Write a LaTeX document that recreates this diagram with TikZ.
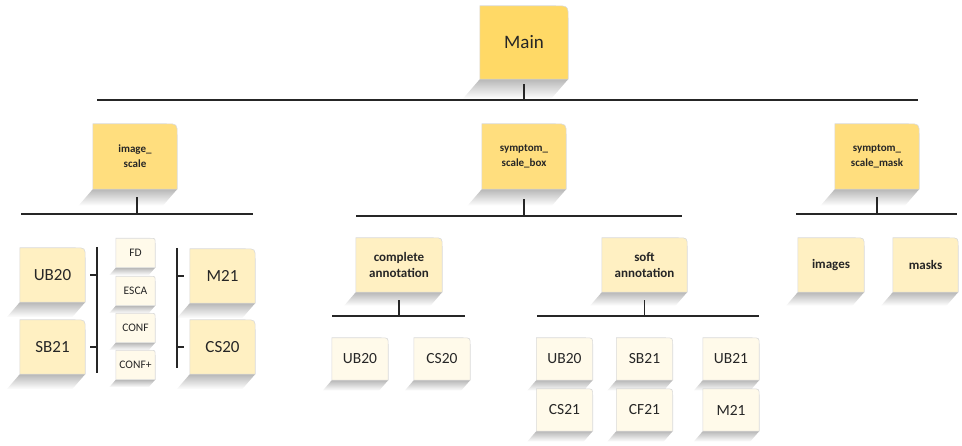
\documentclass[tikz,border=0pt]{standalone}
\usepackage{fontspec}
\setmainfont{Carlito}
\usetikzlibrary{calc}
\pgfdeclarelayer{bg}
\pgfsetlayers{bg,main}
\definecolor{goldA}{HTML}{FFD966}
\definecolor{goldB}{HTML}{FFDE7E}
\definecolor{goldC}{HTML}{FFF0C2}
\definecolor{goldD}{HTML}{FFFAEA}
\definecolor{tileline}{HTML}{D9D9D9}
\definecolor{ink}{HTML}{262626}

\begin{document}
\begin{tikzpicture}[x=1pt, y=-1pt,
    tile/.style={inner sep=0pt, align=center, text=ink},
    rootbox/.style={tile, minimum width=88pt, minimum height=73pt, font=\fontsize{19}{22}\selectfont},
    groupbox/.style={tile, minimum width=84pt, minimum height=65pt, font=\fontsize{11}{15}\selectfont\bfseries},
    setbox/.style={tile, minimum width=65pt, minimum height=54pt, font=\fontsize{17}{20}\selectfont},
    subbox/.style={tile, minimum height=54pt, font=\fontsize{13}{16}\selectfont\bfseries},
    metricbox/.style={tile, minimum width=39pt, minimum height=29pt, font=\fontsize{11.5}{13}\selectfont},
    leafbox/.style={tile, minimum width=56pt, minimum height=42pt, font=\fontsize{15.5}{18}\selectfont},
    bus/.style={draw=ink, line width=1.4pt}]
  \useasboundingbox (0,0) rectangle (962,446);

  \node (main) [rootbox] at (524,42.5) {Main};

  \node (imgsc) [groupbox] at (135,156.5) {image\_\\scale};
  \node (symbox) [groupbox] at (524,156.5) {symptom\_\\scale\_box};
  \node (symmask) [groupbox] at (877,156.5) {symptom\_\\scale\_mask};

  \node (ub) [setbox] at (52.5,275) {UB20};
  \node (sb) [setbox] at (52.5,347) {SB21};
  \node (m) [setbox] at (222.5,276) {M21};
  \node (cs) [setbox] at (222.5,347) {CS20};
  \node (fd) [metricbox] at (135.5,253) {FD};
  \node (esca) [metricbox] at (135.5,291) {ESCA};
  \node (conf) [metricbox] at (135.5,328) {CONF};
  \node (confp) [metricbox] at (135.5,365) {CONF+};

  \node (compl) [subbox, minimum width=86pt] at (399,265) {complete\\annotation};
  \node (soft) [subbox, minimum width=85pt] at (644.5,265) {soft\\annotation};
  \node (img) [subbox, minimum width=66pt] at (831,265) {images};
  \node (msk) [subbox, minimum width=65pt] at (925.5,265) {masks};

  \node (cub) [leafbox] at (360,359) {UB20};
  \node (ccs) [leafbox] at (442,359) {CS20};
  \node (sub) [leafbox] at (564.5,359) {UB20};
  \node (ssb) [leafbox] at (644.5,359) {SB21};
  \node (sub2) [leafbox] at (731,359) {UB21};
  \node (scs) [leafbox] at (564.5,410) {CS21};
  \node (scf) [leafbox] at (644.5,410) {CF21};
  \node (sm) [leafbox] at (731,410) {M21};

  \begin{pgfonlayer}{bg}
    \foreach \n/\c/\r in {main/goldA/13, imgsc/goldB/11, symbox/goldB/11, symmask/goldB/11,
        ub/goldC/10, sb/goldC/10, m/goldC/10, cs/goldC/10,
        compl/goldC/9, soft/goldC/9, img/goldC/9, msk/goldC/9,
        fd/goldD/5, esca/goldD/5, conf/goldD/5, confp/goldD/5,
        cub/goldD/7, ccs/goldD/7, sub/goldD/7, ssb/goldD/7, sub2/goldD/7,
        scs/goldD/7, scf/goldD/7, sm/goldD/7}{
      \shade[top color=black!28, bottom color=white] (\n.south west) -- (\n.south east)
        -- ($(\n.south east)+(-1.3*\r,1.5*\r)$) -- ($(\n.south west)+(-1.3*\r,1.5*\r)$) -- cycle;
      \filldraw[fill=\c, draw=tileline, line width=0.6pt] (\n.south west) -- (\n.south east)
        -- ($(\n.north east)+(0,\r)$) .. controls (\n.north east) .. ($(\n.north east)+(-\r,0)$)
        -- (\n.north west) -- cycle;
    }
  \end{pgfonlayer}

  \coordinate (rootL) at (97,100);
  \coordinate (rootR) at (918,100);
  \draw [bus] (rootL) -- (rootR);
  \draw [bus] ([yshift=-5pt]main.south) -- (main.south |- rootL);

  \coordinate (imgL) at (21,214);
  \coordinate (imgR) at (253,214);
  \draw [bus] (imgL) -- (imgR);
  \draw [bus] ([shift={(2pt,-8pt)}]imgsc.south) -- ([xshift=2pt]imgsc.south |- imgL);

  \coordinate (boxL) at (356,216);
  \coordinate (boxR) at (682,216);
  \draw [bus] (boxL) -- (boxR);
  \draw [bus] ([yshift=-10pt]symbox.south) -- (symbox.south |- boxL);

  \coordinate (maskL) at (796,214);
  \coordinate (maskR) at (957,214);
  \draw [bus] (maskL) -- (maskR);
  \draw [bus] ([yshift=-8pt]symmask.south) -- (symmask.south |- maskL);

  \coordinate (complL) at (332,316);
  \coordinate (complR) at (465,316);
  \draw [bus] (complL) -- (complR);
  \draw [bus] ([yshift=-8pt]compl.south) -- (compl.south |- complL);

  \coordinate (softL) at (537,316);
  \coordinate (softR) at (759,316);
  \draw [bus] (softL) -- (softR);
  \draw [bus] ([yshift=-8pt]soft.south) -- (soft.south |- softL);

  \coordinate (lbarT) at (97,247);
  \coordinate (lbarB) at (97,373);
  \draw [bus] (lbarT) -- (lbarB);
  \draw [bus] ([xshift=5pt]ub.east) -- (ub.east -| lbarT);
  \draw [bus] ([xshift=5pt]sb.east) -- (sb.east -| lbarT);

  \coordinate (rbarT) at (177,248);
  \coordinate (rbarB) at (177,368);
  \draw [bus] (rbarT) -- (rbarB);
  \draw [bus] (m.west -| rbarT) -- ([xshift=-6pt]m.west);
  \draw [bus] (cs.west -| rbarT) -- ([xshift=-6pt]cs.west);
\end{tikzpicture}
\end{document}
